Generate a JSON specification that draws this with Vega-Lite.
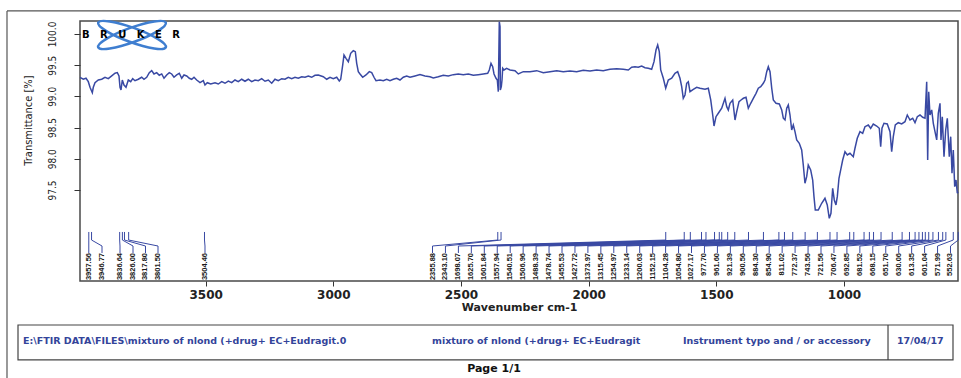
{
 "$schema": "https://vega.github.io/schema/vega-lite/v6.json",
 "width": 878,
 "height": 260,
 "autosize": {"type": "none"},
 "padding": {"left": 80, "top": 21, "right": 3, "bottom": 97},
 "background": "white",
 "config": {"view": {"stroke": "#4a4a4a", "strokeWidth": 1.5}, "axis": {"grid": false, "domain": false}},
 "datasets": {
  "spectrum": [
   {"wavenumber":3992.0,"transmittance":99.306},{"wavenumber":3979.1,"transmittance":99.274},{"wavenumber":3968.5,"transmittance":99.290},{"wavenumber":3959.5,"transmittance":99.235},{"wavenumber":3952.8,"transmittance":99.146},{"wavenumber":3943.8,"transmittance":99.059},{"wavenumber":3939.9,"transmittance":99.146},{"wavenumber":3933.3,"transmittance":99.219},{"wavenumber":3920.3,"transmittance":99.262},{"wavenumber":3907.0,"transmittance":99.274},{"wavenumber":3894.1,"transmittance":99.306},{"wavenumber":3881.2,"transmittance":99.283},{"wavenumber":3867.8,"transmittance":99.327},{"wavenumber":3854.9,"transmittance":99.370},{"wavenumber":3845.9,"transmittance":99.380},{"wavenumber":3839.3,"transmittance":99.327},{"wavenumber":3835.3,"transmittance":99.146},{"wavenumber":3831.4,"transmittance":99.102},{"wavenumber":3826.3,"transmittance":99.262},{"wavenumber":3819.7,"transmittance":99.182},{"wavenumber":3811.8,"transmittance":99.146},{"wavenumber":3802.8,"transmittance":99.262},{"wavenumber":3793.4,"transmittance":99.235},{"wavenumber":3785.6,"transmittance":99.283},{"wavenumber":3776.6,"transmittance":99.251},{"wavenumber":3763.7,"transmittance":99.274},{"wavenumber":3750.4,"transmittance":99.306},{"wavenumber":3741.4,"transmittance":99.274},{"wavenumber":3730.8,"transmittance":99.306},{"wavenumber":3720.6,"transmittance":99.380},{"wavenumber":3711.2,"transmittance":99.412},{"wavenumber":3702.2,"transmittance":99.359},{"wavenumber":3691.6,"transmittance":99.380},{"wavenumber":3681.5,"transmittance":99.338},{"wavenumber":3672.0,"transmittance":99.359},{"wavenumber":3663.0,"transmittance":99.290},{"wavenumber":3652.5,"transmittance":99.343},{"wavenumber":3642.3,"transmittance":99.380},{"wavenumber":3632.9,"transmittance":99.359},{"wavenumber":3623.9,"transmittance":99.306},{"wavenumber":3613.3,"transmittance":99.343},{"wavenumber":3603.1,"transmittance":99.370},{"wavenumber":3593.7,"transmittance":99.290},{"wavenumber":3584.7,"transmittance":99.343},{"wavenumber":3574.1,"transmittance":99.327},{"wavenumber":3563.9,"transmittance":99.290},{"wavenumber":3554.5,"transmittance":99.274},{"wavenumber":3545.5,"transmittance":99.306},{"wavenumber":3535.0,"transmittance":99.262},{"wavenumber":3522.0,"transmittance":99.219},{"wavenumber":3509.1,"transmittance":99.251},{"wavenumber":3502.5,"transmittance":99.182},{"wavenumber":3493.5,"transmittance":99.219},{"wavenumber":3480.2,"transmittance":99.198},{"wavenumber":3463.3,"transmittance":99.219},{"wavenumber":3450.4,"transmittance":99.198},{"wavenumber":3437.0,"transmittance":99.235},{"wavenumber":3424.2,"transmittance":99.210},{"wavenumber":3411.2,"transmittance":99.246},{"wavenumber":3397.9,"transmittance":99.219},{"wavenumber":3385.0,"transmittance":99.262},{"wavenumber":3372.1,"transmittance":99.235},{"wavenumber":3358.7,"transmittance":99.274},{"wavenumber":3345.9,"transmittance":99.242},{"wavenumber":3333.0,"transmittance":99.274},{"wavenumber":3319.6,"transmittance":99.235},{"wavenumber":3306.7,"transmittance":99.262},{"wavenumber":3293.7,"transmittance":99.251},{"wavenumber":3280.4,"transmittance":99.283},{"wavenumber":3267.5,"transmittance":99.242},{"wavenumber":3254.5,"transmittance":99.262},{"wavenumber":3241.2,"transmittance":99.210},{"wavenumber":3228.4,"transmittance":99.274},{"wavenumber":3215.4,"transmittance":99.251},{"wavenumber":3202.1,"transmittance":99.283},{"wavenumber":3189.2,"transmittance":99.274},{"wavenumber":3176.2,"transmittance":99.306},{"wavenumber":3162.9,"transmittance":99.283},{"wavenumber":3150.0,"transmittance":99.306},{"wavenumber":3137.1,"transmittance":99.290},{"wavenumber":3123.7,"transmittance":99.315},{"wavenumber":3110.8,"transmittance":99.306},{"wavenumber":3097.9,"transmittance":99.327},{"wavenumber":3084.6,"transmittance":99.306},{"wavenumber":3071.7,"transmittance":99.338},{"wavenumber":3058.7,"transmittance":99.343},{"wavenumber":3039.1,"transmittance":99.315},{"wavenumber":3025.9,"transmittance":99.274},{"wavenumber":3012.9,"transmittance":99.306},{"wavenumber":3000.0,"transmittance":99.283},{"wavenumber":2986.7,"transmittance":99.306},{"wavenumber":2976.5,"transmittance":99.246},{"wavenumber":2971.0,"transmittance":99.274},{"wavenumber":2963.1,"transmittance":99.503},{"wavenumber":2958.1,"transmittance":99.663},{"wavenumber":2950.2,"transmittance":99.610},{"wavenumber":2941.2,"transmittance":99.556},{"wavenumber":2931.9,"transmittance":99.690},{"wavenumber":2921.7,"transmittance":99.732},{"wavenumber":2913.8,"transmittance":99.716},{"wavenumber":2908.4,"transmittance":99.530},{"wavenumber":2902.1,"transmittance":99.396},{"wavenumber":2895.4,"transmittance":99.359},{"wavenumber":2884.9,"transmittance":99.306},{"wavenumber":2872.0,"transmittance":99.343},{"wavenumber":2859.0,"transmittance":99.396},{"wavenumber":2849.6,"transmittance":99.380},{"wavenumber":2840.6,"transmittance":99.306},{"wavenumber":2832.8,"transmittance":99.251},{"wavenumber":2817.1,"transmittance":99.262},{"wavenumber":2804.2,"transmittance":99.251},{"wavenumber":2790.9,"transmittance":99.274},{"wavenumber":2778.0,"transmittance":99.251},{"wavenumber":2765.0,"transmittance":99.274},{"wavenumber":2751.7,"transmittance":99.290},{"wavenumber":2738.8,"transmittance":99.262},{"wavenumber":2725.9,"transmittance":99.306},{"wavenumber":2712.6,"transmittance":99.327},{"wavenumber":2699.6,"transmittance":99.306},{"wavenumber":2680.1,"transmittance":99.327},{"wavenumber":2660.5,"transmittance":99.348},{"wavenumber":2640.9,"transmittance":99.327},{"wavenumber":2621.3,"transmittance":99.315},{"wavenumber":2608.4,"transmittance":99.295},{"wavenumber":2588.8,"transmittance":99.315},{"wavenumber":2569.3,"transmittance":99.338},{"wavenumber":2549.7,"transmittance":99.327},{"wavenumber":2530.1,"transmittance":99.348},{"wavenumber":2510.5,"transmittance":99.359},{"wavenumber":2490.9,"transmittance":99.348},{"wavenumber":2471.3,"transmittance":99.359},{"wavenumber":2451.8,"transmittance":99.338},{"wavenumber":2432.2,"transmittance":99.348},{"wavenumber":2412.6,"transmittance":99.359},{"wavenumber":2395.4,"transmittance":99.370},{"wavenumber":2389.1,"transmittance":99.423},{"wavenumber":2382.4,"transmittance":99.530},{"wavenumber":2375.8,"transmittance":99.476},{"wavenumber":2370.6,"transmittance":99.359},{"wavenumber":2362.8,"transmittance":99.290},{"wavenumber":2357.7,"transmittance":99.262},{"wavenumber":2353.8,"transmittance":99.075},{"wavenumber":2349.9,"transmittance":100.197},{"wavenumber":2347.1,"transmittance":100.117},{"wavenumber":2345.9,"transmittance":99.102},{"wavenumber":2342.0,"transmittance":99.155},{"wavenumber":2339.3,"transmittance":99.262},{"wavenumber":2336.6,"transmittance":99.450},{"wavenumber":2331.5,"transmittance":99.423},{"wavenumber":2320.9,"transmittance":99.450},{"wavenumber":2308.0,"transmittance":99.423},{"wavenumber":2288.4,"transmittance":99.412},{"wavenumber":2275.5,"transmittance":99.359},{"wavenumber":2255.9,"transmittance":99.396},{"wavenumber":2229.7,"transmittance":99.396},{"wavenumber":2203.5,"transmittance":99.412},{"wavenumber":2177.6,"transmittance":99.380},{"wavenumber":2151.4,"transmittance":99.396},{"wavenumber":2125.1,"transmittance":99.412},{"wavenumber":2099.3,"transmittance":99.396},{"wavenumber":2073.0,"transmittance":99.407},{"wavenumber":2046.8,"transmittance":99.396},{"wavenumber":2021.1,"transmittance":99.418},{"wavenumber":1994.7,"transmittance":99.407},{"wavenumber":1968.6,"transmittance":99.423},{"wavenumber":1942.9,"transmittance":99.412},{"wavenumber":1916.5,"transmittance":99.434},{"wavenumber":1890.1,"transmittance":99.444},{"wavenumber":1864.4,"transmittance":99.434},{"wavenumber":1844.7,"transmittance":99.423},{"wavenumber":1831.5,"transmittance":99.466},{"wavenumber":1818.5,"transmittance":99.476},{"wavenumber":1805.7,"transmittance":99.466},{"wavenumber":1792.3,"transmittance":99.487},{"wavenumber":1779.3,"transmittance":99.460},{"wavenumber":1766.5,"transmittance":99.450},{"wavenumber":1753.2,"transmittance":99.434},{"wavenumber":1744.0,"transmittance":99.556},{"wavenumber":1736.2,"transmittance":99.743},{"wavenumber":1729.6,"transmittance":99.824},{"wavenumber":1723.3,"transmittance":99.716},{"wavenumber":1717.8,"transmittance":99.423},{"wavenumber":1707.6,"transmittance":99.290},{"wavenumber":1698.2,"transmittance":99.130},{"wavenumber":1688.1,"transmittance":99.262},{"wavenumber":1674.7,"transmittance":99.290},{"wavenumber":1661.9,"transmittance":99.370},{"wavenumber":1651.3,"transmittance":99.396},{"wavenumber":1642.3,"transmittance":99.290},{"wavenumber":1635.6,"transmittance":99.155},{"wavenumber":1629.4,"transmittance":98.969},{"wavenumber":1622.7,"transmittance":99.022},{"wavenumber":1616.0,"transmittance":99.210},{"wavenumber":1609.7,"transmittance":99.235},{"wavenumber":1603.1,"transmittance":99.075},{"wavenumber":1590.1,"transmittance":99.113},{"wavenumber":1576.9,"transmittance":99.146},{"wavenumber":1563.9,"transmittance":99.130},{"wavenumber":1544.3,"transmittance":99.113},{"wavenumber":1531.4,"transmittance":99.130},{"wavenumber":1521.9,"transmittance":98.942},{"wavenumber":1514.1,"transmittance":98.701},{"wavenumber":1509.0,"transmittance":98.525},{"wavenumber":1501.2,"transmittance":98.674},{"wavenumber":1492.2,"transmittance":98.729},{"wavenumber":1478.9,"transmittance":98.809},{"wavenumber":1466.0,"transmittance":98.969},{"wavenumber":1459.3,"transmittance":98.835},{"wavenumber":1453.0,"transmittance":98.782},{"wavenumber":1446.4,"transmittance":98.889},{"wavenumber":1435.8,"transmittance":98.942},{"wavenumber":1426.8,"transmittance":98.621},{"wavenumber":1420.1,"transmittance":98.754},{"wavenumber":1411.1,"transmittance":98.915},{"wavenumber":1403.2,"transmittance":98.942},{"wavenumber":1394.2,"transmittance":98.969},{"wavenumber":1383.7,"transmittance":98.985},{"wavenumber":1374.7,"transmittance":98.809},{"wavenumber":1365.3,"transmittance":98.889},{"wavenumber":1355.1,"transmittance":98.969},{"wavenumber":1344.5,"transmittance":99.049},{"wavenumber":1335.5,"transmittance":99.130},{"wavenumber":1326.1,"transmittance":99.155},{"wavenumber":1315.9,"transmittance":99.210},{"wavenumber":1309.3,"transmittance":99.262},{"wavenumber":1302.6,"transmittance":99.396},{"wavenumber":1296.4,"transmittance":99.476},{"wavenumber":1289.7,"transmittance":99.396},{"wavenumber":1283.0,"transmittance":99.130},{"wavenumber":1276.8,"transmittance":98.942},{"wavenumber":1266.2,"transmittance":98.889},{"wavenumber":1253.2,"transmittance":98.878},{"wavenumber":1243.9,"transmittance":98.782},{"wavenumber":1237.6,"transmittance":98.649},{"wavenumber":1231.0,"transmittance":98.621},{"wavenumber":1224.3,"transmittance":98.809},{"wavenumber":1218.1,"transmittance":98.862},{"wavenumber":1211.4,"transmittance":98.701},{"wavenumber":1204.8,"transmittance":98.461},{"wavenumber":1198.5,"transmittance":98.541},{"wavenumber":1191.9,"transmittance":98.434},{"wavenumber":1185.2,"transmittance":98.301},{"wavenumber":1175.1,"transmittance":98.248},{"wavenumber":1165.7,"transmittance":98.140},{"wavenumber":1159.4,"transmittance":97.900},{"wavenumber":1152.8,"transmittance":97.607},{"wavenumber":1146.1,"transmittance":97.712},{"wavenumber":1139.9,"transmittance":97.900},{"wavenumber":1130.5,"transmittance":97.820},{"wavenumber":1122.6,"transmittance":97.659},{"wavenumber":1117.5,"transmittance":97.392},{"wavenumber":1112.4,"transmittance":97.178},{"wavenumber":1100.7,"transmittance":97.178},{"wavenumber":1087.4,"transmittance":97.286},{"wavenumber":1074.5,"transmittance":97.366},{"wavenumber":1065.5,"transmittance":97.259},{"wavenumber":1057.6,"transmittance":97.045},{"wavenumber":1051.0,"transmittance":97.126},{"wavenumber":1044.3,"transmittance":97.526},{"wavenumber":1038.0,"transmittance":97.339},{"wavenumber":1031.4,"transmittance":97.259},{"wavenumber":1026.2,"transmittance":97.392},{"wavenumber":1019.6,"transmittance":97.687},{"wavenumber":1012.9,"transmittance":97.820},{"wavenumber":1005.1,"transmittance":97.980},{"wavenumber":996.1,"transmittance":98.113},{"wavenumber":987.1,"transmittance":98.060},{"wavenumber":976.6,"transmittance":98.087},{"wavenumber":963.6,"transmittance":98.033},{"wavenumber":957.0,"transmittance":98.168},{"wavenumber":948.0,"transmittance":98.328},{"wavenumber":937.3,"transmittance":98.434},{"wavenumber":926.8,"transmittance":98.408},{"wavenumber":917.8,"transmittance":98.514},{"wavenumber":904.9,"transmittance":98.541},{"wavenumber":895.5,"transmittance":98.488},{"wavenumber":885.3,"transmittance":98.557},{"wavenumber":872.0,"transmittance":98.525},{"wavenumber":861.8,"transmittance":98.488},{"wavenumber":856.3,"transmittance":98.193},{"wavenumber":851.2,"transmittance":98.488},{"wavenumber":843.4,"transmittance":98.568},{"wavenumber":830.5,"transmittance":98.557},{"wavenumber":819.8,"transmittance":98.434},{"wavenumber":813.2,"transmittance":98.113},{"wavenumber":806.9,"transmittance":98.354},{"wavenumber":799.1,"transmittance":98.541},{"wavenumber":787.3,"transmittance":98.578},{"wavenumber":774.0,"transmittance":98.557},{"wavenumber":761.1,"transmittance":98.594},{"wavenumber":752.1,"transmittance":98.701},{"wavenumber":741.5,"transmittance":98.621},{"wavenumber":730.9,"transmittance":98.649},{"wavenumber":721.9,"transmittance":98.578},{"wavenumber":712.9,"transmittance":98.674},{"wavenumber":702.3,"transmittance":98.701},{"wavenumber":691.8,"transmittance":98.664},{"wavenumber":682.7,"transmittance":98.649},{"wavenumber":676.1,"transmittance":99.235},{"wavenumber":672.2,"transmittance":97.980},{"wavenumber":668.2,"transmittance":99.075},{"wavenumber":663.2,"transmittance":98.701},{"wavenumber":656.5,"transmittance":98.782},{"wavenumber":650.2,"transmittance":98.568},{"wavenumber":643.6,"transmittance":98.434},{"wavenumber":636.9,"transmittance":98.301},{"wavenumber":630.7,"transmittance":98.729},{"wavenumber":624.0,"transmittance":98.889},{"wavenumber":620.1,"transmittance":98.301},{"wavenumber":615.0,"transmittance":98.674},{"wavenumber":608.3,"transmittance":98.033},{"wavenumber":601.7,"transmittance":98.461},{"wavenumber":595.4,"transmittance":98.649},{"wavenumber":587.6,"transmittance":98.033},{"wavenumber":582.1,"transmittance":98.354},{"wavenumber":577.0,"transmittance":97.767},{"wavenumber":571.9,"transmittance":98.140},{"wavenumber":566.4,"transmittance":97.552},{"wavenumber":561.3,"transmittance":97.659},{"wavenumber":556.2,"transmittance":97.446},{"wavenumber":553.5,"transmittance":97.472}
  ],
  "peaks": [
   {"peak":3957.56,"labelAt":3957.56},{"peak":3946.77,"labelAt":3905.8},{"peak":3836.64,"labelAt":3835.3},{"peak":3826.00,"labelAt":3784.4},{"peak":3817.80,"labelAt":3735.5},{"peak":3801.50,"labelAt":3686.5},{"peak":3504.46,"labelAt":3502.5},
   {"peak":2355.88,"labelAt":2611.5},{"peak":2343.10,"labelAt":2560.8},{"peak":1698.07,"labelAt":2510.1},{"peak":1625.70,"labelAt":2459.4},{"peak":1601.84,"labelAt":2408.6},{"peak":1557.94,"labelAt":2357.9},{"peak":1540.51,"labelAt":2307.2},{"peak":1506.96,"labelAt":2256.5},{"peak":1488.39,"labelAt":2205.8},{"peak":1478.74,"labelAt":2155.1},{"peak":1455.53,"labelAt":2104.3},{"peak":1427.72,"labelAt":2053.6},{"peak":1373.97,"labelAt":2002.9},{"peak":1315.45,"labelAt":1952.2},{"peak":1254.97,"labelAt":1901.5},{"peak":1233.14,"labelAt":1850.8},{"peak":1200.63,"labelAt":1800.0},{"peak":1152.15,"labelAt":1749.3},{"peak":1104.28,"labelAt":1698.6},{"peak":1054.80,"labelAt":1647.9},{"peak":1027.17,"labelAt":1597.2},{"peak":977.70,"labelAt":1546.5},{"peak":961.60,"labelAt":1495.7},{"peak":921.39,"labelAt":1445.0},{"peak":900.56,"labelAt":1394.3},{"peak":884.30,"labelAt":1343.6},{"peak":854.90,"labelAt":1292.9},{"peak":811.02,"labelAt":1242.2},{"peak":772.37,"labelAt":1191.5},{"peak":743.56,"labelAt":1140.7},{"peak":721.56,"labelAt":1090.0},{"peak":706.47,"labelAt":1039.3},{"peak":692.85,"labelAt":988.6},{"peak":681.52,"labelAt":937.9},{"peak":668.15,"labelAt":887.2},{"peak":651.70,"labelAt":836.4},{"peak":630.06,"labelAt":785.7},{"peak":613.35,"labelAt":735.0},{"peak":601.04,"labelAt":684.3},{"peak":571.99,"labelAt":633.6},{"peak":552.63,"labelAt":582.9}
  ]
 },
 "layer": [
  {
   "data": {"name": "spectrum"},
   "mark": {"type": "line", "color": "#3949a3", "strokeWidth": 1.5, "interpolate": "linear"},
   "encoding": {
    "x": {"field": "wavenumber", "type": "quantitative", "title": "Wavenumber cm-1",
     "scale": {"domain": [3992, 553.5], "nice": false, "zero": false},
     "axis": {"title": "Wavenumber cm-1", "values": [3500, 3000, 2500, 2000, 1500, 1000], "format": "d",
      "labelFont": "DejaVu Sans", "labelFontWeight": "bold", "labelFontSize": 12, "labelColor": "#222",
      "tickSize": 5, "tickColor": "#333", "labelPadding": 3,
      "titleFont": "DejaVu Sans", "titleFontWeight": "bold", "titleFontSize": 11, "titleColor": "#222", "titlePadding": 1}},
    "y": {"field": "transmittance", "type": "quantitative", "title": "Transmittance [%]",
     "scale": {"domain": [96.04, 100.208], "nice": false, "zero": false},
     "axis": {"title": "Transmittance [%]", "values": [97.5, 98, 98.5, 99, 99.5, 100], "format": ".1f",
      "labelAngle": 270, "labelAlign": "center", "labelBaseline": "middle", "labelPadding": 22,
      "labelFont": "Liberation Sans Narrow, Arial Narrow, DejaVu Sans Condensed, sans-serif", "labelFontSize": 10, "labelColor": "#222",
      "tickSize": 6, "tickColor": "#333",
      "titleFont": "Liberation Sans Narrow, Arial Narrow, DejaVu Sans Condensed, sans-serif", "titleFontSize": 11, "titleFontWeight": "normal", "titleColor": "#222",
      "titleAngle": 270, "titleX": -52, "titleY": 99, "titleAlign": "center", "titleBaseline": "middle"}}
   }
  },
  {
   "data": {"name": "peaks"},
   "mark": {"type": "rule", "color": "#3949a3", "strokeWidth": 1},
   "encoding": {
    "x": {"field": "peak", "type": "quantitative", "title": "Wavenumber cm-1"},
    "y": {"datum": 96.826},
    "y2": {"datum": 96.697}
   }
  },
  {
   "data": {"name": "peaks"},
   "mark": {"type": "rule", "color": "#3949a3", "strokeWidth": 1},
   "encoding": {
    "x": {"field": "peak", "type": "quantitative", "title": "Wavenumber cm-1"},
    "x2": {"field": "labelAt"},
    "y": {"datum": 96.697},
    "y2": {"datum": 96.601}
   }
  },
  {
   "data": {"name": "peaks"},
   "mark": {"type": "rule", "color": "#3949a3", "strokeWidth": 1},
   "encoding": {
    "x": {"field": "labelAt", "type": "quantitative", "title": "Wavenumber cm-1"},
    "y": {"datum": 96.601},
    "y2": {"datum": 96.489}
   }
  },
  {
   "data": {"name": "peaks"},
   "mark": {"type": "text", "angle": 270, "align": "right", "baseline": "middle",
    "font": "Liberation Sans", "fontSize": 7.5, "fontWeight": "bold", "color": "#1a1a1a"},
   "encoding": {
    "x": {"field": "labelAt", "type": "quantitative", "title": "Wavenumber cm-1"},
    "y": {"datum": 96.489},
    "text": {"field": "peak", "type": "quantitative", "format": ".2f"}
   }
  },
  {
   "data": {"values": [{}]},
   "mark": {"type": "point", "shape": "M-0.94,-0.342A1,0.2,20,1,0,0.94,0.342A1,0.2,20,1,0,-0.94,-0.342ZM-0.94,0.342A1,0.2,-20,1,0,0.94,-0.342A1,0.2,-20,1,0,-0.94,0.342Z",
    "size": 5184, "filled": false, "stroke": "#3f7ed0", "strokeWidth": 2.5, "opacity": 1},
   "encoding": {
    "x": {"datum": 3788.3},
    "y": {"datum": 99.984}
   }
  },
  {
   "data": {"values": [{}]},
   "mark": {"type": "text", "text": "B\u00a0\u00a0\u00a0R\u00a0\u00a0\u00a0U\u00a0\u00a0\u00a0K\u00a0\u00a0\u00a0E\u00a0\u00a0\u00a0R", "font": "DejaVu Sans", "fontWeight": "bold", "fontSize": 10, "color": "#000", "align": "center", "baseline": "middle"},
   "encoding": {
    "x": {"datum": 3792.3},
    "y": {"datum": 99.984}
   }
  },
  {
   "data": {"values": [{}]},
   "mark": {"type": "rule", "color": "#555", "strokeWidth": 1.2},
   "encoding": {
    "x": {"datum": 4277.9},
    "x2": {"datum": 541.7},
    "y": {"datum": 100.369}
   }
  },
  {
   "data": {"values": [{}]},
   "mark": {"type": "rule", "color": "#555", "strokeWidth": 1.2},
   "encoding": {
    "x": {"datum": 4277.9},
    "y": {"datum": 100.369},
    "y2": {"datum": 94.485}
   }
  },
  {
   "data": {"values": [{}]},
   "mark": {"type": "rect", "fill": "white", "stroke": "#444", "strokeWidth": 1.2},
   "encoding": {
    "x": {"datum": 4234.8},
    "x2": {"datum": 573.1},
    "y": {"datum": 95.335},
    "y2": {"datum": 94.774}
   }
  },
  {
   "data": {"values": [{}]},
   "mark": {"type": "rule", "color": "#444", "strokeWidth": 1.2},
   "encoding": {
    "x": {"datum": 827.6},
    "y": {"datum": 95.335},
    "y2": {"datum": 94.774}
   }
  },
  {
   "data": {"values": [{}]},
   "mark": {"type": "text", "text": "E:\\FTIR DATA\\FILES\\mixturo of nlond (+drug+ EC+Eudragit.0", "font": "DejaVu Sans", "fontWeight": "bold", "fontSize": 9.5, "color": "#33449a", "align": "left", "baseline": "middle"},
   "encoding": {"x": {"datum": 4215.3}, "y": {"datum": 95.078}}
  },
  {
   "data": {"values": [{}]},
   "mark": {"type": "text", "text": "mixturo of nlond (+drug+ EC+Eudragit", "font": "DejaVu Sans", "fontWeight": "bold", "fontSize": 9.5, "color": "#33449a", "align": "left", "baseline": "middle"},
   "encoding": {"x": {"datum": 2613.5}, "y": {"datum": 95.078}}
  },
  {
   "data": {"values": [{}]},
   "mark": {"type": "text", "text": "Instrument typo and / or accessory", "font": "DejaVu Sans", "fontWeight": "bold", "fontSize": 9.5, "color": "#33449a", "align": "left", "baseline": "middle"},
   "encoding": {"x": {"datum": 1630.4}, "y": {"datum": 95.078}}
  },
  {
   "data": {"values": [{}]},
   "mark": {"type": "text", "text": "17/04/17", "font": "DejaVu Sans", "fontWeight": "bold", "fontSize": 9.5, "color": "#33449a", "align": "left", "baseline": "middle"},
   "encoding": {"x": {"datum": 792.4}, "y": {"datum": 95.078}}
  },
  {
   "data": {"values": [{}]},
   "mark": {"type": "text", "text": "Page 1/1", "font": "DejaVu Sans", "fontWeight": "bold", "fontSize": 11, "color": "#111", "align": "center", "baseline": "middle"},
   "encoding": {"x": {"datum": 2370.6}, "y": {"datum": 94.630}}
  }
 ]
}
